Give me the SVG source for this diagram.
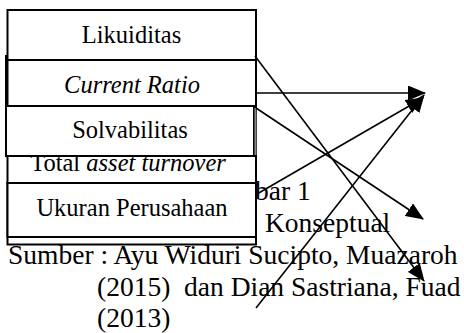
<svg xmlns="http://www.w3.org/2000/svg" width="464" height="333" viewBox="0 0 464 333">
<defs>
<style>
.box{fill:#fff;stroke:#000;stroke-width:2}
.ln{fill:none;stroke:#000;stroke-width:2}
.t{font-family:"Liberation Serif","Times New Roman",serif;font-size:24.5px;fill:#000;text-anchor:middle}
.c{font-family:"Liberation Serif","Times New Roman",serif;font-size:27.5px;fill:#000}
.con{fill:none;stroke:#000;stroke-width:1.6;marker-end:url(#ah)}
</style>
<marker id="ah" markerUnits="userSpaceOnUse" markerWidth="18" markerHeight="15" refX="17" refY="7.5" orient="auto">
<path d="M0,0 L18,7.5 L0,15 z" fill="#000"/>
</marker>
</defs>
<rect width="464" height="333" fill="#fff"/>
<g id="caption">
<text class="c" x="255" y="200">bar 1</text>
<text class="c" x="265" y="231.5">Konseptual</text>
<text class="c" x="8" y="263.5">Sumber : Ayu Widuri Sucipto, Muazaroh</text>
<text class="c" x="97" y="295.5" xml:space="preserve">(2015)  dan Dian Sastriana, Fuad</text>
<text class="c" x="97" y="327">(2013)</text>
</g>
<g id="frame">
<rect class="box" x="7.5" y="183" width="248.5" height="61.5"/>
</g>
<g id="likuiditas">
<rect class="box" x="7.5" y="10" width="248.5" height="50"/>
<text class="t" x="131.5" y="43">Likuiditas</text>
</g>
<g id="total-asset-turnover">
<rect class="box" x="7.5" y="106" width="248.5" height="77"/>
<text class="t" x="128" y="171">Total <tspan font-style="italic">asset turnover</tspan></text>
</g>
<g id="current-ratio">
<rect class="box" x="7.5" y="60" width="248.5" height="46"/>
<line class="ln" x1="6" y1="55" x2="6" y2="157"/>
<text class="t" x="132" y="93" font-style="italic">Current Ratio</text>
</g>
<g id="solvabilitas">
<rect class="box" x="6" y="106" width="248" height="50"/>
<line x1="255.5" y1="108" x2="255.5" y2="155" stroke="#888" stroke-width="2"/>
<text class="t" x="130" y="138">Solvabilitas</text>
</g>
<g id="ukuran-perusahaan">
<rect class="box" x="7.5" y="183" width="248.5" height="54"/>
<text class="t" x="132" y="216">Ukuran Perusahaan</text>
</g>
<g id="connectors">
<line class="con" x1="255" y1="56" x2="424" y2="281"/>
<line class="con" x1="256" y1="93" x2="425" y2="93"/>
<line class="con" x1="256" y1="108" x2="423" y2="219"/>
<line class="con" x1="257" y1="194" x2="423" y2="98"/>
<line class="con" x1="256" y1="308" x2="424" y2="95"/>
</g>
</svg>
